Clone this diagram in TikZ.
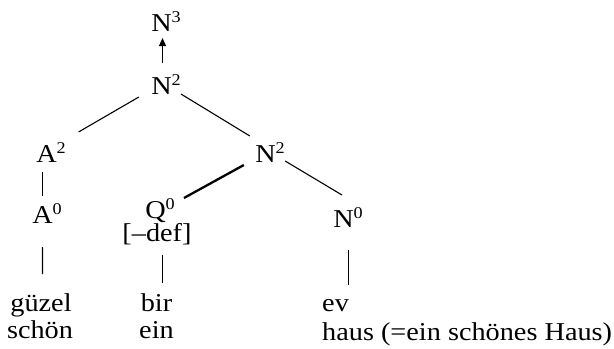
\documentclass[tikz,border=0pt]{standalone}
\usepackage{fontspec}
\setmainfont[FakeStretch=1.1]{Liberation Serif}
\usetikzlibrary{arrows.meta,calc}
\newcommand{\lvl}[1]{\raisebox{9bp}{\fontsize{16.5bp}{16.5bp}\selectfont #1}}
\tikzset{
  cat/.style={anchor=base, inner sep=0pt, font=\fontsize{25.7bp}{27bp}\selectfont},
  wrd/.style={anchor=base, inner sep=0pt, font=\fontsize{25.7bp}{27bp}\selectfont},
  wrdl/.style={wrd, anchor=base west},
  br/.style={line width=1.1bp},
  brb/.style={line width=2.3bp},
  proj/.style={-{Triangle[length=8bp,width=7bp]}, line width=1.1bp},
}

\begin{document}
\begin{tikzpicture}[x=1bp,y=-1bp]
    \useasboundingbox (0,0) rectangle (614,348);
    % categories
    \node[cat] (N3)  at (166,31)  {N\lvl{3}};
    \node[cat] (N2t) at (166,94)  {N\lvl{2}};
    \node[cat] (A2)  at (51,162) {A\lvl{2}};
    \node[cat] (N2m) at (270,162) {N\lvl{2}};
    \node[cat] (A0)  at (47,223)  {A\lvl{0}};
    \node[cat] (Q0)  at (160,218) {Q\lvl{0}};
    \node[cat] (def) at (157,241) {[--def]};
    \node[cat] (N0)  at (348,227) {N\lvl{0}};
    % words
    \node[wrd] (guzel) at (41,311)  {güzel};
    \node[wrd] (schon) at (40,338)  {schön};
    \node[wrd] (bir)   at (156.5,311) {bir};
    \node[wrd] (ein)   at (156.5,338) {ein};
    \node[wrdl] (ev)   at (322,311) {ev};
    \node[wrdl] (haus) at (322,340) {haus (=ein schönes Haus)};
    % branches
    \draw[proj] ([shift={(-3.5,-31)}]N2t.base) -- ([shift={(-3.5,7)}]N3.base);
    \draw[br] ([shift={(-12.2,3)}]N2t.base west) -- ([shift={(12.6,-30)}]A2.base east);
    \draw[br] ([shift={(0,0)}]N2t.base east) -- ([shift={(-5.2,-26)}]N2m.base west);
    \draw[br] ([shift={(-8.5,10)}]A2.base) -- ([shift={(-4.5,-27)}]A0.base);
    \draw[br] ([shift={(-4.5,24)}]A0.base) -- ([shift={(1.5,-37)}]guzel.base);
    \draw[brb] ([shift={(-11.2,3)}]N2m.base west) -- ([shift={(9,-20)}]Q0.base east);
    \draw[br] ([shift={(0.2,-1)}]N2m.base east) -- ([shift={(-6,-32)}]N0.base);
    \draw[br] ([shift={(5.5,14)}]def.base) -- ([shift={(6,-28)}]bir.base);
    \draw[br] ([shift={(0.5,23)}]N0.base) -- ([shift={(26.5,-26)}]ev.base west);
  \end{tikzpicture}
\end{document}
